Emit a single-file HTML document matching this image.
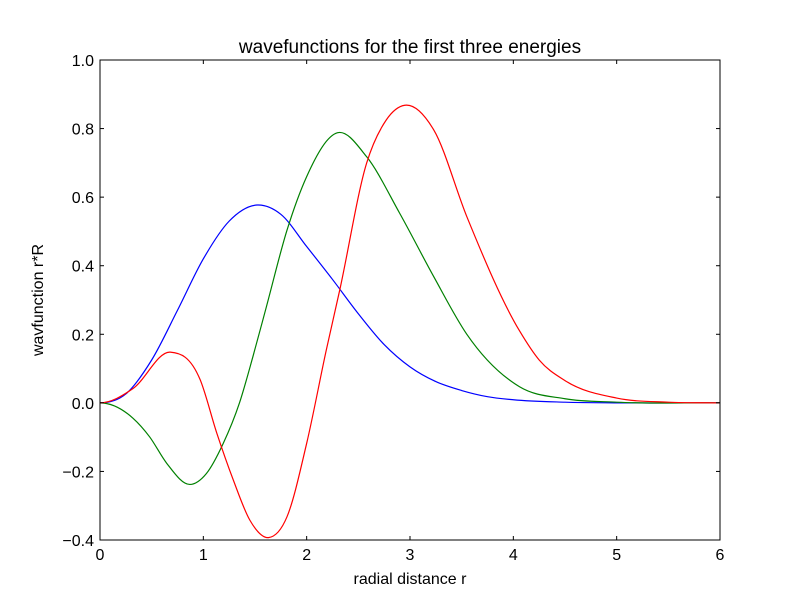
<!DOCTYPE html>
<html><head><meta charset="utf-8"><style>
body{margin:0;background:#fff;}
svg{display:block;font-family:"Liberation Sans","DejaVu Sans",sans-serif;}
</style></head><body>
<svg id="chart" width="800" height="600" viewBox="0 0 800 600">
<rect x="0" y="0" width="800" height="600" fill="#fff"/>
<g id="plot"></g>
<rect x="100" y="60" width="620" height="480" fill="none" stroke="#000" stroke-width="1"/>
<g id="ticks"></g>
<text x="410" y="53" text-anchor="middle" font-size="19">wavefunctions for the first three energies</text>
<text x="410" y="584" text-anchor="middle" font-size="16">radial distance r</text>
<text x="0" y="0" transform="translate(43,300) rotate(-90)" text-anchor="middle" font-size="16">wavfunction r*R</text>
</svg>
<script>
const xTicks=[0,1,2,3,4,5,6];
const yTicks=[-0.4,-0.2,0.0,0.2,0.4,0.6,0.8,1.0];
const yTickLabels=["\u22120.4","\u22120.2","0.0","0.2","0.4","0.6","0.8","1.0"];
const blueX=[0,0.25,0.5,0.75,1.0,1.25,1.52,1.75,2.0,2.25,2.5,2.75,3.0,3.25,3.5,3.75,4.0,4.5,5.0,6.0];
const blueY=[0,0.026,0.125,0.27,0.42,0.53,0.577,0.55,0.456,0.36,0.26,0.17,0.105,0.062,0.036,0.018,0.009,0.002,0,0];
const greenX=[0,0.32,0.48,0.645,0.87,1.03,1.19,1.35,1.48,1.61,1.81,2.0,2.3,2.58,2.9,3.23,3.55,4.06,4.5,5.0,6.0];
const greenY=[0,-0.045,-0.099,-0.176,-0.238,-0.206,-0.12,0,0.135,0.28,0.504,0.66,0.788,0.718,0.553,0.368,0.2,0.047,0.012,0.002,0];
const redX=[0,0.32,0.68,0.97,1.13,1.29,1.45,1.63,1.81,2.0,2.19,2.32,2.58,2.77,2.95,3.23,3.55,4.06,4.25,4.5,5.0,5.5,6.0];
const redY=[0,0.042,0.148,0.067,-0.088,-0.225,-0.342,-0.393,-0.332,-0.118,0.154,0.329,0.699,0.825,0.868,0.796,0.543,0.21,0.125,0.065,0.014,0.002,0];

const X0=100,X1=720,Y0=540,Y1=60,XMIN=0,XMAX=6,YMIN=-0.4,YMAX=1.0;
function sx(v){return X0+(v-XMIN)/(XMAX-XMIN)*(X1-X0);}
function sy(v){return Y0-(v-YMIN)/(YMAX-YMIN)*(Y0-Y1);}
const NS="http://www.w3.org/2000/svg";
function pathFor(xs,ys){
  const n=xs.length,m=[];
  for(let i=0;i<n;i++){
    if(i===0) m.push(0);
    else if(i===n-1) m.push((ys[n-1]-ys[n-2])/(xs[n-1]-xs[n-2]));
    else{const h0=xs[i]-xs[i-1],h1=xs[i+1]-xs[i];
      const s0=(ys[i]-ys[i-1])/h0,s1=(ys[i+1]-ys[i])/h1;
      m.push((s0*h1+s1*h0)/(h0+h1));}
  }
  let d="M"+sx(xs[0])+","+sy(ys[0]);
  for(let i=0;i<n-1;i++){
    const h=xs[i+1]-xs[i];
    d+=" C"+sx(xs[i]+h/3)+","+sy(ys[i]+m[i]*h/3)+" "+sx(xs[i+1]-h/3)+","+sy(ys[i+1]-m[i+1]*h/3)+" "+sx(xs[i+1])+","+sy(ys[i+1]);
  }
  return d;
}
const plot=document.getElementById('plot');
[[blueX,blueY,'#0000ff','series-blue'],[greenX,greenY,'#008000','series-green'],[redX,redY,'#ff0000','series-red']].forEach(s=>{
  const el=document.createElementNS(NS,'path');
  el.setAttribute('d',pathFor(s[0],s[1]));
  el.setAttribute('fill','none');
  el.setAttribute('stroke',s[2]);
  el.setAttribute('stroke-width','1.2');
  
  
  plot.appendChild(el);
});
const tg=document.getElementById('ticks');
function line(x1,y1,x2,y2){const l=document.createElementNS(NS,'line');l.setAttribute('x1',x1);l.setAttribute('y1',y1);l.setAttribute('x2',x2);l.setAttribute('y2',y2);l.setAttribute('stroke','#000');l.setAttribute('stroke-width','1');


tg.appendChild(l);}
function text(x,y,s,anchor){const t=document.createElementNS(NS,'text');t.setAttribute('x',x);t.setAttribute('y',y);t.setAttribute('text-anchor',anchor);t.setAttribute('font-size','16');t.textContent=s;


tg.appendChild(t);}
xTicks.forEach(v=>{const x=sx(v);line(x,Y0,x,Y0-4);line(x,Y1,x,Y1+4);text(x,Y0+20,String(v),'middle');});
yTicks.forEach((v,i)=>{const y=sy(v);line(X0,y,X0+4,y);line(X1,y,X1-4,y);text(X0-6,y+6,yTickLabels[i],'end');});
</script>
</body></html>
